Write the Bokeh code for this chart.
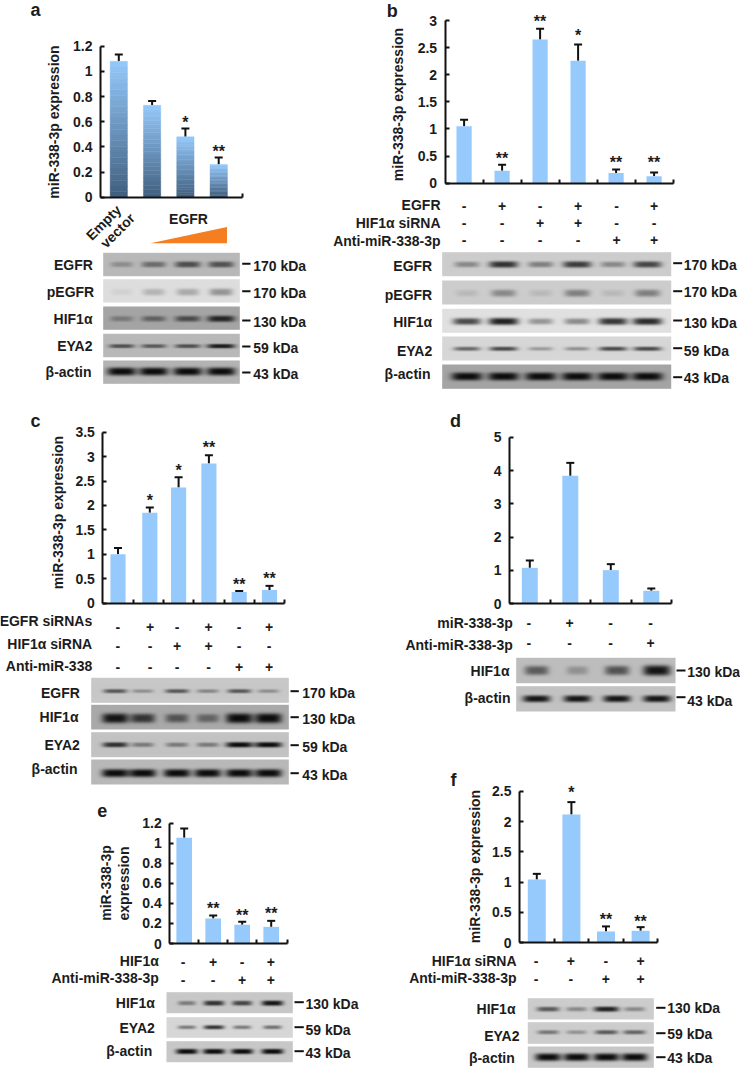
import numpy as np
from bokeh.plotting import figure
from bokeh.models import Range1d, LinearAxis, FixedTicker, ColumnDataSource, Whisker, TeeHead
from bokeh.core.properties import value
from bokeh.embed import file_html
from bokeh.resources import INLINE

W, H = 740, 1069
FONT = value("Liberation Sans")
INK = "#1c1c1c"

# ---------- data ----------
a_values = [1.08, 0.73, 0.48, 0.26]
a_err = [1.134, 0.765, 0.545, 0.315]
a_stars = ["", "", "*", "**"]
a_ticks = [0, 0.2, 0.4, 0.6, 0.8, 1, 1.2]

b_values = [1.05, 0.23, 2.65, 2.26, 0.19, 0.13]
b_err = [1.168, 0.338, 2.846, 2.557, 0.252, 0.197]
b_stars = ["", "**", "**", "*", "**", "**"]
b_ticks = [0, 0.5, 1, 1.5, 2, 2.5, 3]
b_rows = ["EGFR", "HIF1\u03b1 siRNA", "Anti-miR-338-3p"]
b_signs = ["-+-+-+", "--++--", "----++"]

c_values = [1.0, 1.85, 2.37, 2.86, 0.23, 0.27]
c_err = [1.13, 1.96, 2.58, 3.03, 0.25, 0.355]
c_stars = ["", "*", "*", "**", "**", "**"]
c_ticks = [0, 0.5, 1, 1.5, 2, 2.5, 3, 3.5]
c_rows = ["EGFR siRNAs", "HIF1\u03b1 siRNA", "Anti-miR-338"]
c_signs = ["-+-+-+", "--++--", "----++"]

d_values = [1.08, 3.84, 1.01, 0.39]
d_err = [1.3, 4.23, 1.19, 0.46]
d_stars = ["", "", "", ""]
d_ticks = [0, 1, 2, 3, 4, 5]
d_rows = ["miR-338-3p", "Anti-miR-338-3p"]
d_signs = ["-+--", "---+"]

e_values = [1.054, 0.25, 0.186, 0.166]
e_err = [1.147, 0.28, 0.216, 0.226]
e_stars = ["", "**", "**", "**"]
e_ticks = [0, 0.2, 0.4, 0.6, 0.8, 1, 1.2]
e_rows = ["HIF1\u03b1", "Anti-miR-338-3p"]
e_signs = ["-+-+", "--++"]

f_values = [1.044, 2.115, 0.187, 0.198]
f_err = [1.137, 2.32, 0.27, 0.258]
f_stars = ["", "*", "**", "**"]
f_ticks = [0, 0.5, 1, 1.5, 2, 2.5]
f_rows = ["HIF1\u03b1 siRNA", "Anti-miR-338-3p"]
f_signs = ["-+-+", "--++"]

# Blot rows: protein, size label, background grey, band darkness in each lane
a_blots = [("EGFR", "170 kDa", 185, [.25, .45, .62, .6]),
           ("pEGFR", "170 kDa", 222, [.06, .2, .25, .35]),
           ("HIF1\u03b1", "130 kDa", 165, [.3, .45, .6, .85]),
           ("EYA2", "59 kDa", 185, [.6, .55, .6, .9]),
           ("\u03b2-actin", "43 kDa", 180, [1, 1, 1, 1])]
b_blots = [("EGFR", "170 kDa", 205, [.35, .8, .4, .75, .35, .7]),
           ("pEGFR", "170 kDa", 205, [.1, .35, .1, .4, .1, .4]),
           ("HIF1\u03b1", "130 kDa", 225, [.7, .9, .35, .4, .8, .85]),
           ("EYA2", "59 kDa", 215, [.55, .7, .3, .35, .7, .7]),
           ("\u03b2-actin", "43 kDa", 165, [1, 1, 1, 1, 1, 1])]
c_blots = [("EGFR", "170 kDa", 200, [.6, .3, .6, .35, .6, .3]),
           ("HIF1\u03b1", "130 kDa", 170, [.95, .75, .55, .45, 1, 1]),
           ("EYA2", "59 kDa", 195, [.8, .4, .4, .4, 1, 1]),
           ("\u03b2-actin", "43 kDa", 185, [1, 1, 1, 1, 1, 1])]
d_blots = [("HIF1\u03b1", "130 kDa", 190, [.55, .25, .6, .95]),
           ("\u03b2-actin", "43 kDa", 195, [.95, .95, .95, .95])]
e_blots = [("HIF1\u03b1", "130 kDa", 200, [.4, .8, .7, .95]),
           ("EYA2", "59 kDa", 215, [.45, .8, .45, .5]),
           ("\u03b2-actin", "43 kDa", 200, [1, 1, 1, 1])]
f_blots = [("HIF1\u03b1", "130 kDa", 205, [.6, .35, .9, .35]),
           ("EYA2", "59 kDa", 205, [.45, .3, .6, .55]),
           ("\u03b2-actin", "43 kDa", 200, [1, 1, 1, 1])]

# ---------- layout (image pixels) ----------
L = {
 "a": dict(vals=a_values, err=a_err, stars=a_stars, ticks=a_ticks, ymax=1.2, c0=118.3, dc=33.3, y0=196.7, yt=45.7,
           bw=.52, xb=(-.55, 3.706), xt=[], pos=[0, 1, 2, 3], star_y=[0, 0, 120.7, 149],
           letter=(35, 9), rows=[], signs=[], blots=a_blots,
           bx=(102.7, 239.3), by=[(252.3, 275.7), (278.7, 302), (306, 329.3), (333.3, 356.7), (360, 383.3)],
           lanes=[120.7, 152.7, 186.7, 220], hw=14.5, band=[(264, 3.6), (291.7, 4.5), (318.3, 3.4), (345.7, 2.4), (371, 4.2)],
           lab=[(92.3, 264), (93.7, 291.7), (92, 318), (92, 345), (91, 371)],
           tick=(241.7, 250, [263.3, 290.7, 320, 346, 372]), kda=(252.7, [265, 292, 321.7, 347.7, 373.7])),
 "b": dict(vals=b_values, err=b_err, stars=b_stars, ticks=b_ticks, ymax=3, c0=463.6, dc=38, y0=182.7, yt=20,
           bw=.4, xb=(-.5, 5.5), xt=[.5, 1.5, 2.5, 3.5, 4.5, 5.5], pos=[0, 1, 2, 3, 4, 5],
           star_y=[0, 156.7, 19, 33.5, 160.7, 160.7], letter=(391.7, 10),
           rows=b_rows, signs=b_signs, row_x=440, row_y=[204, 222, 240], sign_y=[205, 222.5, 239.5],
           sign_x=[463.7, 501.5, 539.7, 577.7, 616, 653.7], blots=b_blots,
           bx=(441.7, 670.7), by=[(251.7, 275.7), (280, 304), (308.3, 332.3), (336, 360), (364, 388.3)],
           lanes=[466, 502.7, 540, 576.7, 612.7, 647.3], hw=15.5, band=[(264, 3.6), (292.7, 4.5), (321, 3.8), (348.3, 2.4), (376, 4.2)],
           lab=[(431.7, 265.7), (431.7, 294.3), (431.7, 321.7), (431.7, 350), (430, 373.3)],
           tick=(672.7, 681.7, [262.7, 290.7, 320, 347.7, 376.7]), kda=(683.3, [264, 291.7, 322.3, 350, 377.7])),
 "c": dict(vals=c_values, err=c_err, stars=c_stars, ticks=c_ticks, ymax=3.5, c0=117.5, dc=30.3, y0=602.7, yt=431.7,
           bw=.5, xb=(-.5, 5.5), xt=[.5, 1.5, 2.5, 3.5, 4.5, 5.5], pos=[0, 1.05, 2, 3, 4, 5],
           star_y=[0, 498.3, 468.7, 445, 582.7, 576.7], letter=(35, 420),
           rows=c_rows, signs=c_signs, row_x=91.7, row_y=[620, 643.3, 665.3], sign_y=[626, 645, 666],
           sign_x=[117.3, 149.7, 176.7, 208, 238.7, 268.7], blots=c_blots,
           bx=(90.7, 288.3), by=[(677.3, 702.3), (704.3, 729), (731.7, 756.7), (759, 784)],
           lanes=[114.3, 141.7, 176, 206.7, 238.3, 267.3], hw=13.5, band=[(690.7, 2.4), (718.3, 5), (744.3, 2.8), (772.7, 4.2)],
           lab=[(79.3, 692.7), (78, 716.7), (79.3, 744), (77, 768.3)],
           tick=(290, 298.3, [690.7, 716.7, 744.7, 772.7]), kda=(301.7, [692.7, 718.3, 746, 774.3])),
 "d": dict(vals=d_values, err=d_err, stars=d_stars, ticks=d_ticks, ymax=5, c0=529.3, dc=40.5, y0=603.3, yt=436.7,
           bw=.395, xb=(-.5, 3.5), xt=[.5, 1.5, 2.5, 3.5], pos=[0, 1, 2, 3], star_y=[0, 0, 0, 0], letter=(455, 420),
           rows=d_rows, signs=d_signs, row_x=512.3, row_y=[622.7, 644.3], sign_y=[622, 642.3],
           sign_x=[528.3, 569, 610, 650], blots=d_blots,
           bx=(515.7, 675), by=[(657.3, 682.7), (685.7, 711)],
           lanes=[535.7, 576.7, 616.7, 656.7], hw=14, band=[(670, 5.5), (698.3, 3.6)],
           lab=[(509, 670), (510, 697.3)],
           tick=(676, 685, [670, 696.7]), kda=(686.7, [671, 700.7])),
 "e": dict(vals=e_values, err=e_err, stars=e_stars, ticks=e_ticks, ymax=1.2, c0=183.7, dc=29, y0=943, yt=822.7,
           bw=.54, xb=(-.5, 3.55), xt=[.5, 1.5, 2.5, 3.55], pos=[0, 1, 2, 3],
           star_y=[0, 906.3, 913.3, 911.3], letter=(101.7, 810),
           rows=e_rows, signs=e_signs, row_x=158.3, row_y=[960, 977.7], sign_y=[961.7, 979],
           sign_x=[182.7, 212.7, 241.7, 270.3], blots=e_blots,
           bx=(166, 292.3), by=[(991.7, 1012.7), (1016.7, 1037.3), (1040.7, 1061.7)],
           lanes=[186, 213.3, 241.7, 272.3], hw=11, band=[(1002.7, 2.8), (1027.3, 2.2), (1051, 2.8)],
           lab=[(154.3, 1002.7), (154.3, 1027.3), (151.7, 1050.7)],
           tick=(294, 303.3, [1001.7, 1026.7, 1050.7]), kda=(305, [1003.3, 1029.3, 1052.3])),
 "f": dict(vals=f_values, err=f_err, stars=f_stars, ticks=f_ticks, ymax=2.5, c0=536.3, dc=34.6, y0=942.3, yt=790.7,
           bw=.52, xb=(-.5, 3.5), xt=[.5, 1.5, 2.5, 3.5], pos=[0, 1, 2, 3],
           star_y=[0, 790.7, 917.7, 919], letter=(453, 779),
           rows=f_rows, signs=f_signs, row_x=516, row_y=[960.7, 977.3], sign_y=[960, 978.3],
           sign_x=[535.7, 570.3, 605.3, 640], blots=f_blots,
           bx=(527.3, 653.3), by=[(997.7, 1019), (1021.7, 1043.3), (1046, 1067.3)],
           lanes=[547.3, 576, 606, 634.3], hw=13, band=[(1008.7, 2.8), (1032.3, 2.4), (1056.7, 4)],
           lab=[(515, 1008.3), (519, 1035), (514.3, 1057.7)],
           tick=(655.7, 665, [1007.3, 1032.7, 1056.7]), kda=(666.7, [1007.3, 1033.3, 1057.7])),
}
Y_LABELS = {"a": (53, 121.5), "b": (397, 104), "c": (57, 512), "f": (474, 866)}

p = figure(width=W, height=H, x_range=Range1d(0, W), y_range=Range1d(0, H), x_axis_type=None, y_axis_type=None,
           toolbar_location=None, output_backend="svg", min_border=0, outline_line_color=None)
p.grid.visible = False
BAR = "#97CAFC"


def Y(py):
    return H - py


def texts(xs, ys, ts, size=14, align="right", angle=0.0, baseline="middle", color=INK):
    s = ColumnDataSource(dict(x=list(xs), y=[Y(v) for v in ys], t=list(ts)))
    p.text("x", "y", "t", source=s, text_font=FONT, text_font_size=f"{size}px", text_font_style="bold",
           text_align=align, text_baseline=baseline, angle=angle, text_color=color)


def blot_image(cfg, row, by, lane_dark, bg, band_y, sig):
    x0, x1 = cfg["bx"]
    y0, y1 = by
    nx, ny = int(round(x1 - x0)), int(round(y1 - y0))
    xs = np.linspace(x0, x1, nx)[None, :]
    ys = np.linspace(y1, y0, ny)[:, None]
    g = np.full((ny, nx), float(bg))
    for c, d in zip(cfg["lanes"], lane_dark):
        fx = np.exp(-(np.abs(xs - c) / (cfg["hw"] * (.7 + .3 * d))) ** 4)
        fy = np.exp(-(np.abs(ys - band_y) / (sig * (.75 + .25 * d))) ** 3)
        g = g - (bg - 12) * d * fx * fy
    g = np.clip(g, 0, 255).astype(np.uint32)
    return (255 << 24) | (g << 16) | (g << 8) | g


for name, c in L.items():
    ppu = (c["y0"] - c["yt"]) / c["ymax"]
    rx, ry = name + "x", name + "y"
    p.extra_x_ranges[rx] = Range1d((0 - c["c0"]) / c["dc"], (W - c["c0"]) / c["dc"])
    p.extra_y_ranges[ry] = Range1d((c["y0"] - H) / ppu, c["y0"] / ppu)
    kw = dict(x_range_name=rx, y_range_name=ry)
    xv = c["pos"]

    if name == "a":
        # bars of panel a fade from light blue at the top to slate at the bottom
        top_c, bot_c = np.array([0x93, 0xC7, 0xF9]), np.array([0x3F, 0x5D, 0x7C])
        n = 24
        q = dict(l=[], r=[], t=[], b=[], col=[])
        for x, v in zip(xv, c["vals"]):
            for k in range(n):
                f = k / n
                col = top_c + (bot_c - top_c) * f
                q["l"].append(x - c["bw"] / 2)
                q["r"].append(x + c["bw"] / 2)
                q["t"].append(v * (1 - f))
                q["b"].append(v * (1 - (k + 1) / n))
                q["col"].append("#%02x%02x%02x" % tuple(int(i) for i in col))
        p.quad(left="l", right="r", top="t", bottom="b", color="col", line_width=.4, source=ColumnDataSource(q), **kw)
    else:
        p.vbar(x=xv, top=c["vals"], bottom=0, width=c["bw"], color=BAR, line_color=None, **kw)

    err = ColumnDataSource(dict(x=xv, lo=c["vals"], hi=c["err"]))
    p.add_layout(Whisker(base="x", lower="lo", upper="hi", source=err, dimension="height",
                         line_color="#111111", line_width=2, lower_head=None,
                         upper_head=TeeHead(size=8, line_width=2, line_color="#111111"), **kw))

    yax = LinearAxis(ticker=FixedTicker(ticks=c["ticks"]), fixed_location=c["xb"][0], bounds=(0, c["ymax"]), **kw)
    yax.major_tick_in = 4
    yax.major_tick_out = 0
    yax.minor_tick_in = yax.minor_tick_out = 0
    yax.axis_line_width = 2
    yax.major_tick_line_width = 2
    yax.axis_line_color = yax.major_tick_line_color = "#111111"
    yax.major_label_text_font = "Liberation Sans"
    yax.major_label_text_font_style = "bold"
    yax.major_label_text_font_size = "14px"
    yax.major_label_text_color = INK
    yax.major_label_standoff = 8
    p.add_layout(yax, "left")

    xax = LinearAxis(ticker=FixedTicker(ticks=c["xt"] or [c["xb"][1]]), fixed_location=0, bounds=c["xb"], **kw)
    xax.major_tick_in = 4
    xax.major_tick_out = 0
    xax.minor_tick_in = xax.minor_tick_out = 0
    xax.axis_line_width = 2
    xax.major_tick_line_width = 2
    xax.axis_line_color = xax.major_tick_line_color = "#111111"
    xax.major_label_text_font_size = "0px"
    xax.major_label_text_color = None
    p.add_layout(xax, "below")

    # stars
    sx = [c["c0"] + c["dc"] * x for x, s in zip(xv, c["stars"]) if s]
    sy = [y + 1.7 for y, s in zip(c["star_y"], c["stars"]) if s]
    st = [s for s in c["stars"] if s]
    if st:
        texts(sx, sy, st, size=16, align="center", baseline="alphabetic")

    # +/- table
    for lab, ly, sgn, sgy in zip(c["rows"], c.get("row_y", []), c["signs"], c.get("sign_y", [])):
        texts([c["row_x"]], [ly], [lab])
        texts(c["sign_x"], [sgy] * len(sgn), list(sgn), align="center")

    # blots
    for row, by, (bnd, s), lb in zip(c["blots"], c["by"], c["band"], c["lab"]):
        img = blot_image(c, row, by, row[3], row[2], bnd, s)
        p.image_rgba(image=[img], x=c["bx"][0], y=Y(by[1]), dw=c["bx"][1] - c["bx"][0], dh=by[1] - by[0])
        texts([lb[0]], [lb[1]], [row[0]])
    tx0, tx1, tys = c["tick"]
    p.segment(x0=[tx0] * len(tys), x1=[tx1] * len(tys), y0=[Y(t) for t in tys], y1=[Y(t) for t in tys],
              line_color="#111111", line_width=2)
    texts([c["kda"][0]] * len(c["kda"][1]), c["kda"][1], [r[1] for r in c["blots"]], align="left")

    texts([c["letter"][0]], [c["letter"][1]], [name], size=18, align="center")

for name, (lx, ly) in Y_LABELS.items():
    texts([lx], [ly], ["miR-338-3p expression"], align="center", angle=np.pi / 2)
texts([105], [882.5], ["miR-338-3p"], align="center", angle=np.pi / 2)
texts([123.3], [883], ["expression"], align="center", angle=np.pi / 2)

# Panel a annotations
texts([103], [222], ["Empty"], align="center", angle=np.pi / 4)
texts([117], [230], ["vector"], align="center", angle=np.pi / 4)
texts([188], [218], ["EGFR"], align="center")
p.patch(x=[150, 226.5, 226.5], y=[Y(242.7), Y(242.7), Y(226.5)], color="#F47E20", line_color=None)

open("out.html", "w").write(file_html(p, INLINE))
